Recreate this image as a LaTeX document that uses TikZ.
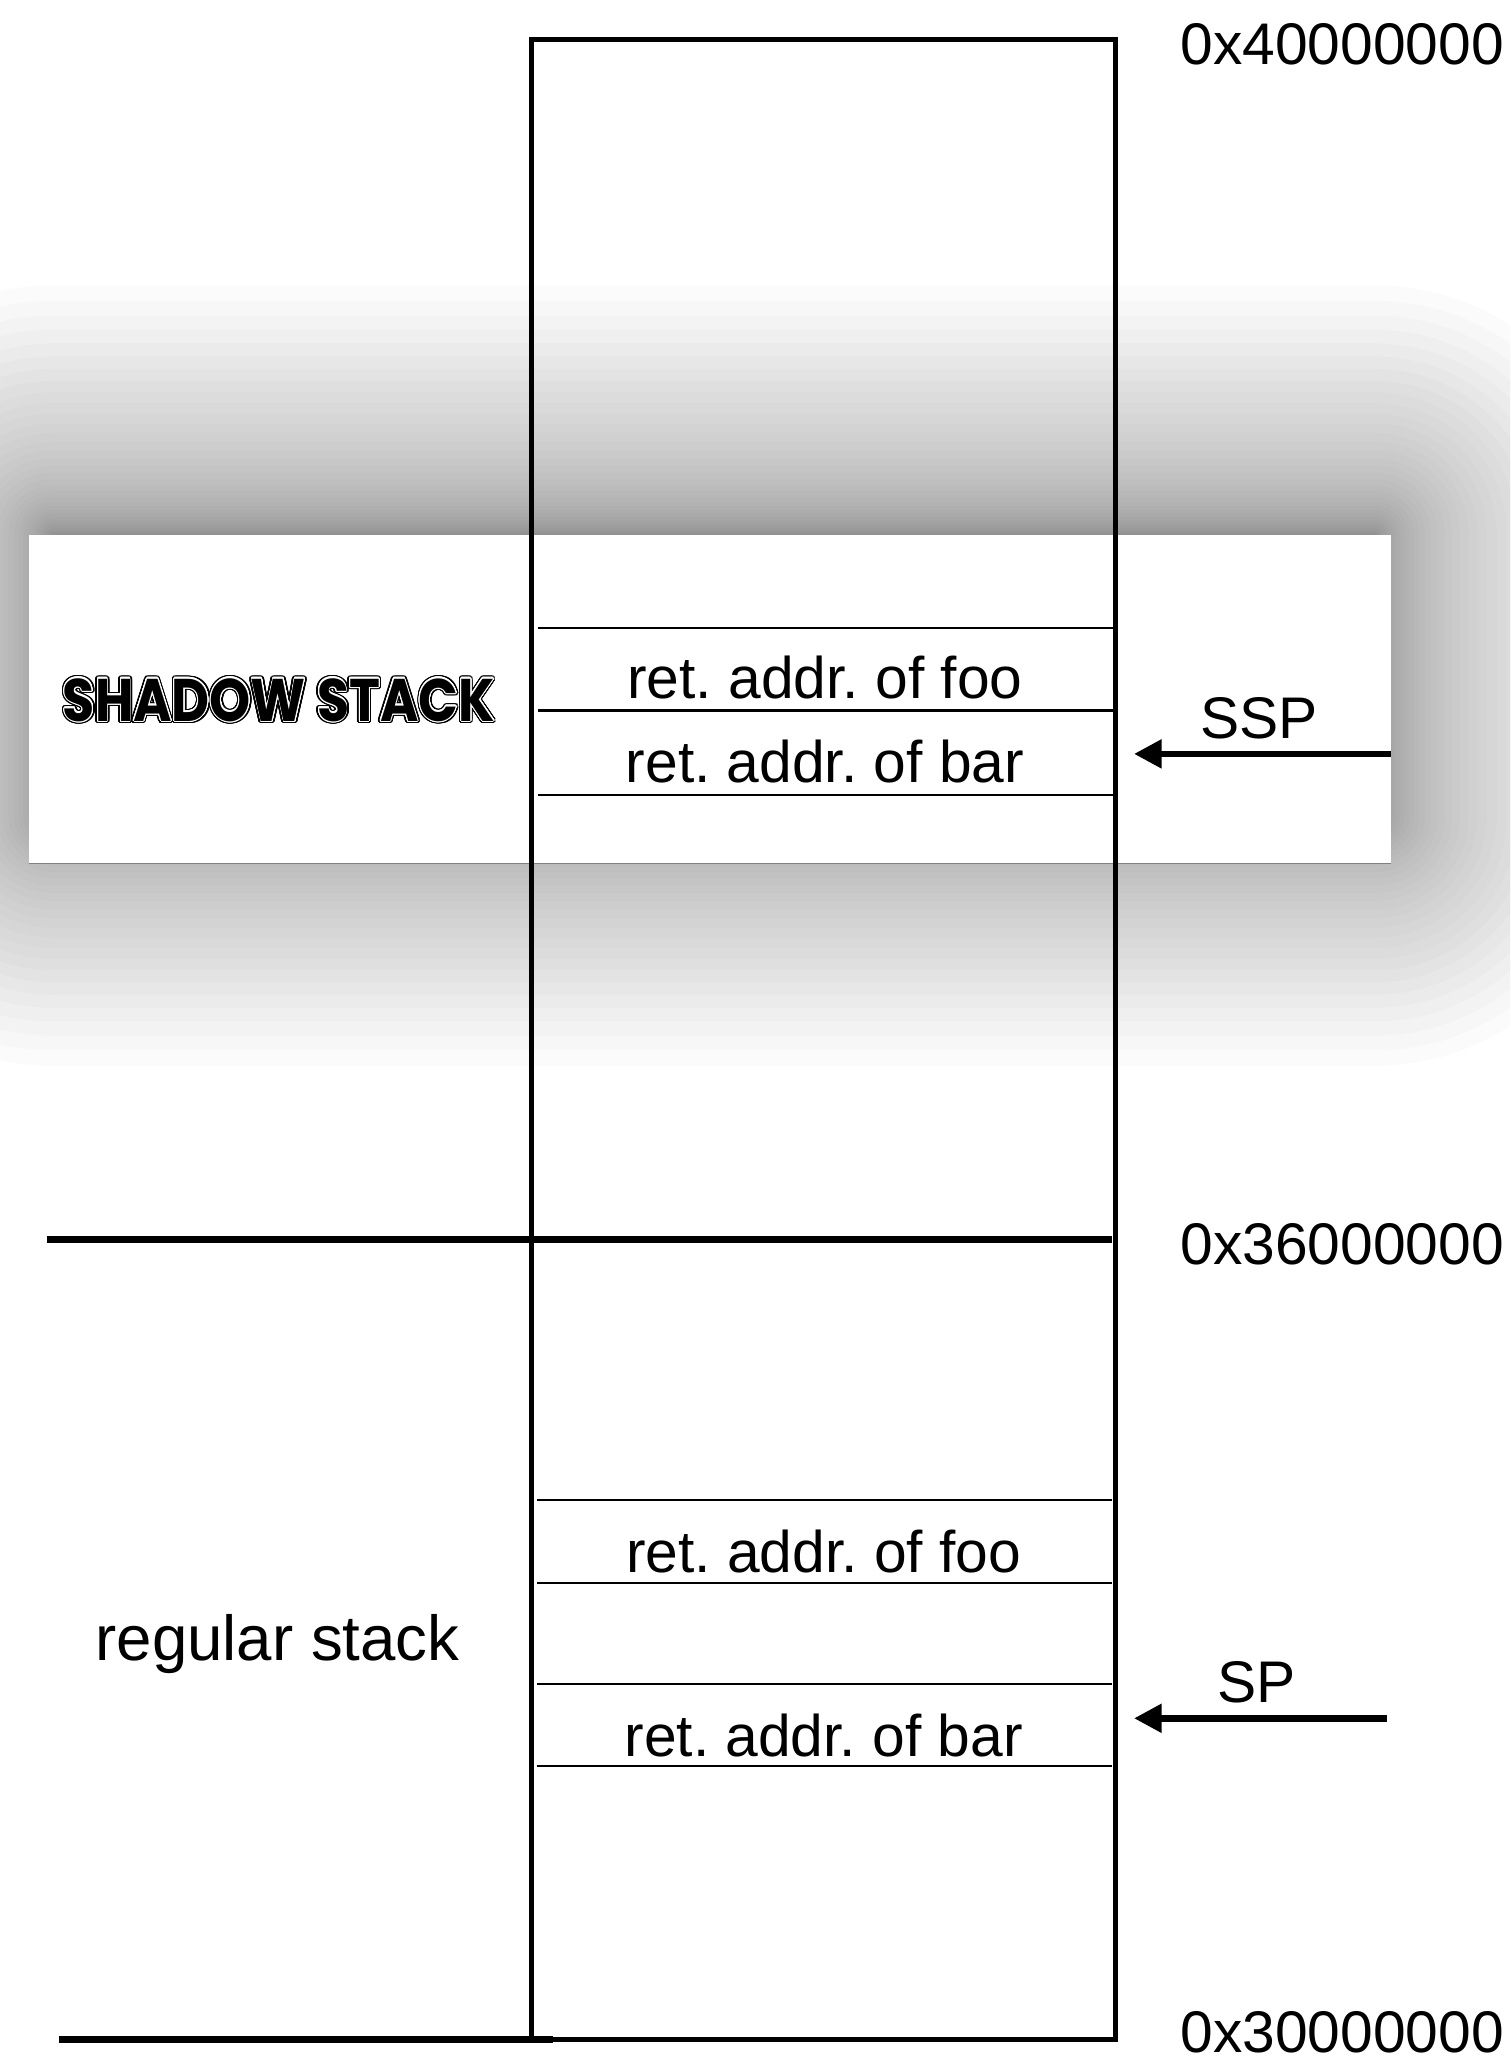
\documentclass[tikz,border=0pt]{standalone}
\usepackage{fontspec}
\setmainfont{Liberation Sans}
\newfontfamily\stackfont{Poppins}
\usepackage[copies]{contour}
\usetikzlibrary{positioning, arrows.meta}

\frenchspacing
\contournumber{32}
% outlined title text: #1 ring width, #2 ring colour, #3 text
\newcommand\ringtext[3]{\scalebox{0.87}[1]{\stackfont\bfseries\fontsize{26}{30}\selectfont\contourlength{#1}\contour{#2}{#3}}}

\tikzset{
  slotline/.style={black, line width=0.9pt},
  bigline/.style={black, line width=3pt},
  ptr/.style={black, line width=2.8pt, -{Triangle[length=4.2mm, width=4.2mm]}},
  lbl/.style={inner sep=0pt, font=\fontsize{25.4}{30}\selectfont},
}

\begin{document}
\begin{tikzpicture}[x=0.2mm, y=-0.2mm]
  \useasboundingbox (0,0) rectangle (1148,1568);
  \clip (0,0) rectangle (1148,1568);

  % soft shadow under the band, layers packed near the edge
  \foreach \i in {0,...,40} {
    \pgfmathsetmacro\d{190*(\i/40)^2.5}
    \fill[black, opacity=0.0145, rounded corners=\d*0.2mm] (40-\d,407-\d) rectangle (1045+\d,620+\d);
  }
  \fill[white] (22,407) rectangle (1057,656);  %band
  \draw[gray, line width=0.5pt] (22,656) -- (1057,656);

  % memory column
  \node[draw, line width=2.2pt, inner sep=0pt, minimum width=88.8mm, minimum height=304mm] (mem) at (626,790) {};
  \foreach \y in {477,540,604}
    \draw[slotline] (409,\y) -- (846,\y);
  \foreach \y in {1140,1203,1280,1342}
    \draw[slotline] (408,\y) -- (845,\y);
  \draw[bigline] (36,942) -- (845,942);
  \draw[bigline] (45,1550) -- (420,1550);

  \node[lbl, anchor=base] (sfoo) at (627,531) {ret. addr. of foo};
  \node[lbl, anchor=base] (sbar) at (627,595) {ret. addr. of bar};
  \node[lbl, anchor=base] (rfoo) at (626,1195) {ret. addr. of foo};
  \node[lbl, anchor=base] (rbar) at (626,1335) {ret. addr. of bar};

  % addresses
  \node[lbl, anchor=base west] (top) at (897,49) {0x40000000};
  \node[lbl, anchor=base west] (mid) at (897,961) {0x36000000};
  \node[lbl, anchor=base west] (bot) at (897,1560) {0x30000000};

  % stack pointers
  \node[lbl, anchor=base] (ssp) at (957,561) {SSP};
  \node[lbl, anchor=base] (sp) at (955,1294) {SP};
  \coordinate (ssptail) at (1057,573);
  \coordinate (sptail) at (1054,1306);
  \draw[ptr, shorten >=2.4mm] (ssptail) -- (ssptail -| mem.east);
  \draw[ptr, shorten >=2.4mm] (sptail) -- (sptail -| mem.east);

  \node[lbl, anchor=base, font=\fontsize{27.5}{30}\selectfont] (reg) at (211,1262) {regular stack};
  \node[anchor=base, inner sep=0pt] (shtitle) at (212,548) {\ringtext{1.2pt}{black}{SHADOW STACK}};
  \node[anchor=base, inner sep=0pt] (shinner) at (shtitle.base) {\ringtext{0.45pt}{white}{SHADOW STACK}};
\end{tikzpicture}
\end{document}
